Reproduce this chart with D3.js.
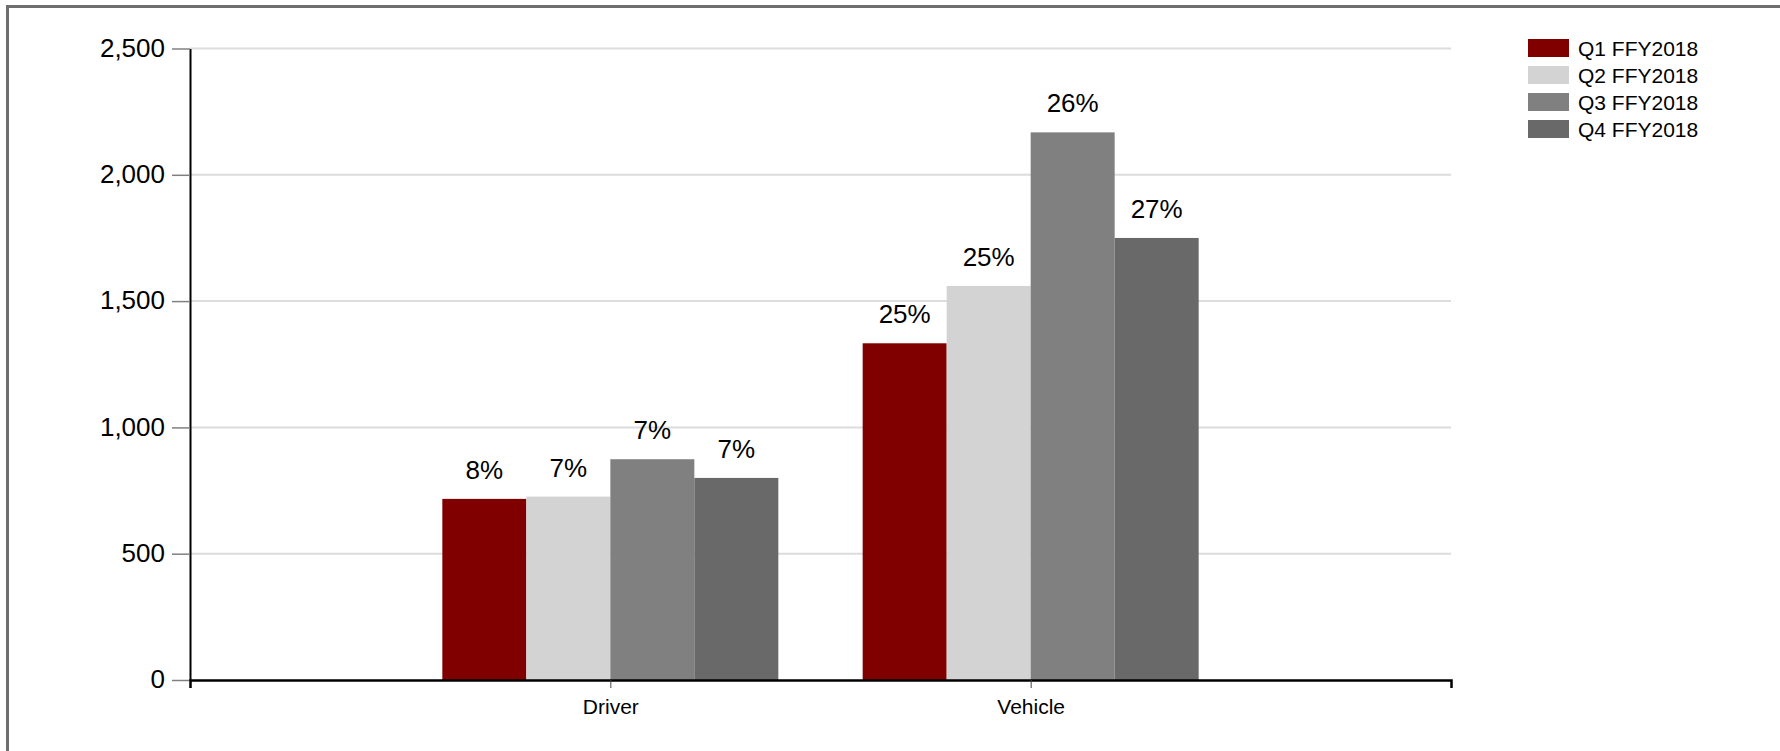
<!DOCTYPE html>
<html>
<head>
<meta charset="utf-8">
<script src="https://cdn.jsdelivr.net/npm/d3@7"></script>
<style>
  body { margin: 0; background: #fff; }
  text { font-family: "Liberation Sans", Arial, sans-serif; fill: #000; }
</style>
</head>
<body>
<div id="chart"></div>
<script>
// chart data
var categories = ["Driver", "Vehicle"];
var seriesNames = ["Q1 FFY2018", "Q2 FFY2018", "Q3 FFY2018", "Q4 FFY2018"];
var seriesColors = ["#800000", "#d3d3d3", "#808080", "#696969"];
var q1Values = [717, 1333];
var q2Values = [726, 1560];
var q3Values = [874, 2168];
var q4Values = [800, 1750];
var q1Pct = [8, 25];
var q2Pct = [7, 25];
var q3Pct = [7, 26];
var q4Pct = [7, 27];
var yTicks = [0, 500, 1000, 1500, 2000, 2500];

var width = 1780,
    height = 751;

var svg = d3.select('#chart')
      .append('svg')
      .attr('width', width)
      .attr('height', height);

// outer frame
svg.append('rect')
    .attr('x', 7.5)
    .attr('y', 6.5)
    .attr('width', 1800)
    .attr('height', 800)
    .attr('fill', '#fff')
    .attr('stroke', '#6e6e6e')
    .attr('stroke-width', 3);

var plotLeft = 190, plotRight = 1451, plotTop = 48.5, plotBottom = 680;

var y = d3.scaleLinear()
      .domain([0, 2500])
      .range([plotBottom, plotTop]);

var x0 = d3.scalePoint()
      .domain(categories)
      .range([plotLeft, plotRight])
      .padding(1);

var x1 = d3.scaleBand()
      .domain(seriesNames)
      .range([-168, 168]);

// build rows for the bars
var allValues = [q1Values, q2Values, q3Values, q4Values];
var allPct = [q1Pct, q2Pct, q3Pct, q4Pct];
var rows = [];
seriesNames.forEach(function(s, i) {
  categories.forEach(function(c, j) {
    rows.push({ series: s, cat: c, value: allValues[i][j], pct: allPct[i][j], color: seriesColors[i] });
  });
});

// gridlines
svg.append('g')
    .selectAll('line')
    .data(yTicks.filter(d => d > 0))
    .enter()
    .append('line')
    .attr('x1', plotLeft)
    .attr('x2', plotRight)
    .attr('y1', d => y(d))
    .attr('y2', d => y(d))
    .attr('stroke', '#dcdcdc')
    .attr('stroke-width', 2);

// bars
svg.append('g')
    .selectAll('rect')
    .data(rows)
    .enter()
    .append('rect')
    .attr('x', d => x0(d.cat) + x1(d.series))
    .attr('y', d => y(d.value))
    .attr('width', x1.bandwidth())
    .attr('height', d => plotBottom - y(d.value))
    .attr('fill', d => d.color);

// percent labels
svg.append('g')
    .selectAll('text')
    .data(rows)
    .enter()
    .append('text')
    .attr('x', d => x0(d.cat) + x1(d.series) + x1.bandwidth() / 2)
    .attr('y', d => y(d.value) - 20)
    .attr('text-anchor', 'middle')
    .style('font-size', '26px')
    .text(d => d.pct + '%');

// y axis
var yAxis = svg.append('g')
    .attr('transform', 'translate(' + plotLeft + ',0)')
    .call(d3.axisLeft(y)
      .tickValues(yTicks)
      .tickSize(18)
      .tickSizeOuter(0)
      .tickPadding(7)
      .tickFormat(d3.format(',')));
yAxis.select('.domain').attr('stroke', '#000').attr('stroke-width', 2);
yAxis.selectAll('.tick line').attr('stroke', '#808080').attr('stroke-width', 1.5);
yAxis.selectAll('.tick text')
    .style('font-size', '26px')
    .style('font-family', '"Liberation Sans", Arial, sans-serif')
    .attr('dy', '0.3em');

// x axis
var xAxis = svg.append('g')
    .attr('transform', 'translate(0,' + plotBottom + ')')
    .call(d3.axisBottom(x0)
      .tickSize(8)
      .tickSizeOuter(8)
      .tickPadding(11));
xAxis.select('.domain').attr('stroke', '#000').attr('stroke-width', 2.5);
xAxis.selectAll('.tick line').attr('stroke', '#444').attr('stroke-width', 1);
xAxis.selectAll('.tick text')
    .style('font-size', '21px')
    .style('font-family', '"Liberation Sans", Arial, sans-serif');

// legend
var legend = svg.append('g')
    .selectAll('g')
    .data(seriesNames)
    .enter()
    .append('g')
    .attr('transform', (d, i) => 'translate(1528,' + (39 + i * 27) + ')');

legend.append('rect')
    .attr('width', 41)
    .attr('height', 18)
    .attr('fill', (d, i) => seriesColors[i]);

legend.append('text')
    .attr('x', 50)
    .attr('y', 17)
    .style('font-size', '21px')
    .text(d => d);
</script>
</body>
</html>
